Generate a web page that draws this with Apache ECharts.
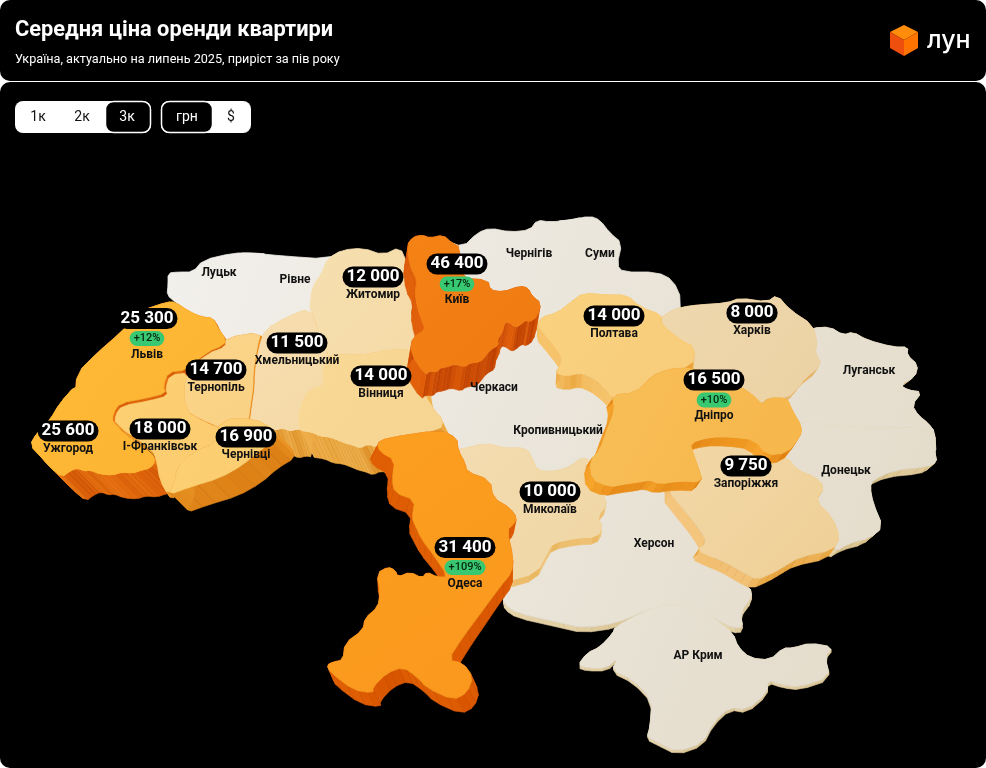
<!DOCTYPE html>
<html>
<head>
<meta charset="utf-8">
<style>html,body{margin:0;padding:0;background:#fff}#chart{width:986px;height:768px}</style>
<script src="https://cdn.jsdelivr.net/npm/echarts@6/dist/echarts.min.js"></script>
</head>
<body>
<div id="chart"></div>
<script>
// values
const regionNames = ['Луцьк','Рівне','Чернігів','Суми','Черкаси','Кропивницький','Херсон','АР Крим','Луганськ','Донецьк','Харків','Запоріжжя','Миколаїв','Житомир','Львів','Ужгород','І-Франківськ','Тернопіль','Хмельницький','Вінниця','Чернівці','Полтава','Дніпро','Одеса','Київ'];
const rentValues = [null,null,null,null,null,null,null,null,null,null,8000,9750,10000,12000,25300,25600,18000,14700,11500,14000,16900,14000,16500,31400,46400];
const growthValues = [null,null,null,null,null,null,null,null,null,null,null,null,null,null,12,null,null,null,null,null,null,null,10,109,17];

// region outlines (x, y in page pixels)
// neighbours overlap a little, the later one in paintOrder hides the shared part
const outlines = {
  'Луцьк': [[168,273],[178,272],[193,272],[203,260],[233,253],[253,253],[268,254],[265,300],[250,345],[225,350],[217,327],[213,318],[202,317],[190,312],[175,302],[167,295],[168,285]],
  'Рівне': [[238,253],[253,253],[283,256],[327,259],[345,249],[345,300],[310,335],[263,345],[235,345],[240,290]],
  'Чернігів': [[445,240],[463,247],[477,233],[490,228],[510,232],[530,230],[537,220],[550,222],[570,220],[583,217],[580,315],[540,330],[490,310],[450,290]],
  'Суми': [[556,221],[570,220],[590,216],[600,220],[610,233],[622,243],[617,265],[623,272],[657,272],[673,280],[682,300],[675,330],[640,325],[600,320],[555,320]],
  'Черкаси': [[410,370],[500,320],[540,315],[560,340],[570,362],[580,373],[600,385],[540,405],[500,415],[470,415],[440,420],[425,410]],
  'Кропивницький': [[425,405],[470,410],[500,410],[540,400],[600,380],[625,400],[620,440],[605,480],[560,490],[500,480],[460,465],[440,440]],
  'Херсон': [[503,597],[510,585],[525,560],[543,540],[560,520],[597,510],[610,480],[640,465],[663,470],[672,495],[680,505],[700,533],[702,545],[730,578],[750,587],[752,597],[740,613],[743,627],[733,628],[717,620],[700,612],[673,605],[647,610],[617,623],[583,628],[557,622],[517,613],[505,605]],
  'АР Крим': [[615,627],[643,612],[670,603],[700,610],[717,621],[733,633],[738,647],[750,658],[770,660],[783,648],[793,648],[810,643],[833,647],[825,657],[830,677],[800,687],[783,685],[768,680],[767,693],[747,710],[730,707],[713,723],[703,743],[677,752],[657,742],[647,737],[650,727],[652,700],[633,680],[612,670],[618,658],[607,668],[587,668],[578,665],[587,653],[600,647],[613,633]],
  'Луганськ': [[812,328],[830,327],[843,335],[853,332],[867,340],[893,347],[908,347],[907,355],[918,365],[915,377],[900,385],[908,390],[922,392],[912,405],[918,415],[928,423],[935,432],[936,456],[850,456],[795,436],[785,395],[795,375],[805,365],[800,352],[800,335]],
  'Донецьк': [[790,420],[850,428],[934,428],[935,453],[937,462],[927,467],[895,470],[873,480],[870,487],[873,503],[883,527],[870,538],[850,543],[835,552],[830,537],[820,517],[805,500],[812,487],[805,477],[785,470],[775,458]],
  'Харків': [[648,328],[665,315],[673,310],[683,307],[697,305],[727,303],[740,298],[767,302],[777,295],[790,310],[813,325],[817,343],[815,352],[822,365],[805,378],[798,388],[787,398],[768,398],[762,405],[720,410],[670,385],[665,350]],
  'Запоріжжя': [[690,430],[710,425],[733,425],[755,430],[767,452],[788,458],[797,470],[815,477],[825,487],[815,500],[832,517],[840,537],[833,550],[800,557],[785,566],[775,572],[757,580],[742,572],[727,563],[712,557],[697,550],[707,543],[700,530],[680,505],[668,490],[680,465]],
  'Миколаїв': [[448,452],[458,450],[487,443],[503,448],[527,448],[533,460],[537,470],[553,472],[570,467],[582,457],[593,462],[590,483],[603,493],[607,505],[597,517],[603,527],[597,537],[577,538],[553,543],[547,553],[537,573],[505,582],[495,540],[485,500],[455,470]],
  'Житомир': [[327,259],[342,250],[363,248],[383,255],[400,247],[407,263],[413,280],[417,298],[425,327],[425,360],[387,360],[337,365],[327,357],[317,330],[310,308],[310,307],[312,287],[322,273]],
  'Львів': [[167,302],[175,302],[190,312],[202,317],[213,318],[217,327],[225,338],[224,345],[207,352],[187,370],[168,372],[163,387],[166,393],[147,398],[120,403],[113,413],[112,425],[80,425],[70,405],[75,398],[77,373],[97,353],[120,333],[143,310]],
  'Ужгород': [[60,403],[76,385],[95,385],[112,425],[152,453],[155,462],[150,468],[142,470],[133,473],[122,472],[113,475],[100,474],[90,470],[85,471],[77,468],[70,471],[62,477],[50,467],[42,458],[30,445],[37,433],[50,420]],
  'І-Франківськ': [[115,424],[116,414],[122,406],[149,401],[168,396],[166,388],[170,375],[189,373],[190,400],[203,410],[215,415],[223,425],[217,443],[193,452],[177,468],[175,483],[168,495],[160,480],[157,462],[153,450]],
  'Тернопіль': [[226,338],[261,332],[257,347],[253,373],[253,387],[250,407],[248,423],[223,430],[215,425],[203,420],[185,410],[185,374],[207,354],[226,347]],
  'Хмельницький': [[310,308],[287,317],[265,330],[259,347],[255,373],[255,387],[252,407],[250,423],[262,426],[275,430],[283,428],[290,431],[297,429],[303,430],[305,407],[313,390],[332,385],[328,370],[329,357],[317,330]],
  'Вінниця': [[329,357],[337,355],[367,355],[387,350],[415,350],[420,385],[430,405],[443,420],[440,430],[390,438],[377,447],[368,444],[360,448],[353,445],[345,443],[338,440],[330,437],[320,436],[312,432],[298,430],[300,407],[308,390],[325,385],[322,370]],
  'Чернівці': [[220,420],[253,418],[275,430],[277,440],[260,450],[243,465],[220,478],[190,487],[168,495],[175,483],[177,468],[193,452],[217,443]],
  'Полтава': [[537,325],[542,317],[557,313],[570,303],[583,293],[607,295],[627,295],[640,307],[662,315],[660,323],[680,340],[695,347],[692,367],[650,377],[648,392],[627,393],[620,397],[613,398],[605,388],[595,380],[588,376],[580,373],[567,376],[555,373],[563,362],[560,353],[548,338]],
  'Дніпро': [[612,395],[635,393],[648,380],[657,373],[680,367],[710,372],[743,388],[755,397],[762,405],[768,398],[787,398],[792,410],[802,427],[800,437],[787,453],[767,455],[755,440],[733,437],[710,437],[690,443],[693,453],[698,467],[703,482],[680,481],[660,484],[650,480],[640,482],[625,484],[610,487],[592,480],[590,460],[600,450],[607,430],[615,410]],
  'Одеса': [[377,443],[387,438],[440,430],[457,438],[458,450],[465,463],[467,472],[490,480],[493,498],[510,508],[517,518],[513,525],[507,530],[513,557],[512,572],[500,587],[483,610],[463,637],[448,660],[463,663],[473,677],[467,693],[453,700],[427,688],[417,677],[403,667],[387,673],[373,687],[373,693],[353,690],[330,672],[327,665],[333,662],[343,660],[345,643],[363,630],[365,618],[378,607],[380,593],[377,573],[388,567],[395,570],[398,577],[410,572],[422,578],[427,572],[437,577],[448,577],[435,557],[422,540],[415,525],[412,518],[415,500],[395,493],[392,480],[395,460],[380,452]],
  'Київ': [[407,245],[413,237],[422,235],[430,238],[443,235],[452,243],[460,247],[460,278],[488,280],[490,290],[503,292],[520,286],[528,288],[532,296],[541,303],[537,317],[530,322],[526,320],[519,326],[515,327],[510,323],[505,322],[502,333],[497,340],[499,345],[490,350],[484,358],[480,362],[470,363],[465,367],[455,364],[447,367],[440,368],[437,372],[430,371],[425,375],[410,352],[413,337],[425,330],[423,323],[418,310],[415,293],[417,280],[410,267]]
};

// where each label block is centred
const labelAnchors = {
  'Луцьк':[219,273],'Рівне':[295,280],'Чернігів':[529,254],'Суми':[600,254],'Черкаси':[494,388],'Кропивницький':[558,431],'Херсон':[654,544],'АР Крим':[698,656],'Луганськ':[869,371],'Донецьк':[846,471],
  'Харків':[752,321],'Запоріжжя':[746,474],'Миколаїв':[550,500],'Житомир':[373,285],'Львів':[147,335.5],'Ужгород':[68,439],'І-Франківськ':[160,437],'Тернопіль':[216,378],'Хмельницький':[297,351],'Вінниця':[381,384],'Чернівці':[246,445],'Полтава':[614,324],'Дніпро':[714,397],'Одеса':[465,564.5],'Київ':[457,281]
};

// top face colours (light, dark) and wall colours (dark, light)
const neutralStops = ['#f2f0ec', '#e4dccb'];
const faceColors = {
  'Харків':['#efd8ae','#ebd2a4'],'Запоріжжя':['#f2d8a8','#efcf95'],'Миколаїв':['#f3dcb0','#f0d6a4'],'Житомир':['#f6dfb0','#f4daa6'],'Львів':['#ffba37','#fdb433'],'Ужгород':['#ffba37','#fdb433'],'І-Франківськ':['#fdd074','#fbcc6e'],'Тернопіль':['#fbd58b','#fad184'],'Хмельницький':['#f7deb0','#f5d9a7'],'Вінниця':['#f9d996','#f6d491'],'Чернівці':['#fdd074','#fbcd70'],'Полтава':['#fad27f','#f7cc7a'],'Дніпро':['#f8bf58','#f6b64a'],'Одеса':['#fc9f20','#fa981d'],'Київ':['#f58214','#ee7a12']
};
const wallColors = {
  'Херсон':['#d8c291','#e8d6ae'],'АР Крим':['#d8c291','#e8d6ae'],'Луганськ':['#d8bf88','#ecdab0'],'Донецьк':['#d8bf88','#ecdab0'],
  'Харків':['#e5b063','#efc78a'],'Запоріжжя':['#e9a640','#f4c67e'],'Миколаїв':['#e9b65e','#f3cf8e'],'Львів':['#d95c08','#f07c16'],'Ужгород':['#d95c08','#f07a14'],'І-Франківськ':['#e0800f','#ee9a2a'],'Тернопіль':['#e0800f','#ee8f1e'],'Хмельницький':['#e09228','#f2b450'],'Вінниця':['#e09228','#f2b450'],'Чернівці':['#dd8015','#ea9526'],'Полтава':['#e9a035','#f6c46c'],'Дніпро':['#e0800f','#f7a52c'],'Одеса':['#d85400','#e05f04'],'Київ':['#bf4000','#e2600a']
};
// how far each wall drops from its top face: dx, dy, and how dx leans with height on the page
const wallOffsets = {
  'Херсон':[0,5],'АР Крим':[0,3],'Луганськ':[-8,6],'Донецьк':[-8,7],
  'Харків':[-6,8],'Запоріжжя':[-6,9],'Миколаїв':[-1,7],'Львів':[4,6],'Ужгород':[24,24],'І-Франківськ':[4,6],'Тернопіль':[3,2],'Хмельницький':[9,27],'Вінниця':[13,27],'Чернівці':[18,18],'Полтава':[-1,14],'Дніпро':[-6,9],'Одеса':[-1,14,0.06],'Київ':[-4,24]
};
// back to front, a trailing * repaints the top face only
const paintOrder = ['Херсон','АР Крим','Луцьк','Рівне','Чернігів','Суми','Черкаси','Кропивницький','Луганськ','Донецьк','Житомир','Харків','Миколаїв','Запоріжжя','Ужгород','Львів','Ужгород*','Хмельницький','Вінниця','Тернопіль*','І-Франківськ','Тернопіль','Хмельницький*','Вінниця*','Чернівці','Полтава','Дніпро','Одеса','Київ'];

const toGeo = (p) => [p[0], -p[1]];

// one corner cutting pass, takes the hard corners off the traced outlines
function rounded(pts) {
  const out = [];
  pts.forEach((a, i) => {
    const b = pts[(i + 1) % pts.length];
    out.push([a[0] * 0.75 + b[0] * 0.25, a[1] * 0.75 + b[1] * 0.25]);
    out.push([a[0] * 0.25 + b[0] * 0.75, a[1] * 0.25 + b[1] * 0.75]);
  });
  return out;
}

function mix(a, b, t) {
  const pa = parseInt(a.slice(1), 16), pb = parseInt(b.slice(1), 16);
  const ch = (s) => Math.round(((pa >> s) & 255) * (1 - t) + ((pb >> s) & 255) * t);
  return 'rgb(' + ch(16) + ',' + ch(8) + ',' + ch(0) + ')';
}

const features = regionNames.map((name) => {
  const ring = outlines[name].map(toGeo);
  ring.push(ring[0]);
  return {
    type: 'Feature',
    properties: { name: name, cp: toGeo(labelAnchors[name]) },
    geometry: { type: 'Polygon', coordinates: [ring] }
  };
});
echarts.registerMap('ukraine', { type: 'FeatureCollection', features: features });

function faceFill(name) {
  const c = faceColors[name];
  if (!c) {
    return new echarts.graphic.LinearGradient(170, 250, 900, 560, [
      { offset: 0, color: neutralStops[0] },
      { offset: 1, color: neutralStops[1] }
    ], true);
  }
  return new echarts.graphic.LinearGradient(0, 0, 1, 1, [
    { offset: 0, color: c[0] },
    { offset: 1, color: c[1] }
  ]);
}

function renderRegion(params, api) {
  const entry = paintOrder[api.value(0)];
  const topOnly = entry.endsWith('*');
  const name = entry.replace('*', '');
  const pts = rounded(outlines[name]).map((p) => api.coord(toGeo(p)));
  const off = wallOffsets[name];
  const walls = wallColors[name];
  const children = [];
  if (off && !topOnly) {
    const drop = (p) => [p[0] + off[0] + (off[2] || 0) * (p[1] - 550), p[1] + off[1]];
    pts.forEach((a, i) => {
      const b = pts[(i + 1) % pts.length];
      const dx = b[0] - a[0], dy = b[1] - a[1];
      const len = Math.sqrt(dx * dx + dy * dy) || 1;
      // facing decides the stripe shade
      const t = Math.min(1, Math.abs(dx * 0.5 + dy * 0.85) / len);
      const c = mix(walls[0], walls[1], t);
      children.push({
        type: 'polygon',
        shape: { points: [a, b, drop(b), drop(a)] },
        style: { fill: c, stroke: c, lineWidth: 0.6 }
      });
    });
  }
  const fill = faceFill(name);
  children.push({
    type: 'polygon',
    shape: { points: pts },
    style: { fill: fill, stroke: fill, lineWidth: 0.8 }
  });
  return { type: 'group', children: children };
}

const fmtRent = (v) => String(v).replace(/\B(?=(\d{3})+$)/g, ' ');
const FONT = 'Roboto';

const chart = echarts.init(document.getElementById('chart'), null, { renderer: 'canvas' });
chart.setOption({
  animation: false,
  backgroundColor: '#ffffff',
  title: {
    left: 15, top: 20,
    padding: 0,
    text: 'Середня ціна оренди квартири',
    subtext: 'Україна, актуально на липень 2025, приріст за пів року',
    itemGap: 11,
    textStyle: { fontFamily: FONT, fontSize: 21.8, fontWeight: 700, color: '#ffffff' },
    subtextStyle: { fontFamily: FONT, fontSize: 12.65, color: '#ffffff' },
    z: 10
  },
  graphic: [
    { type: 'rect', z: -10, shape: { x: 0, y: 0, width: 986, height: 81, r: 10 }, style: { fill: '#000' } },
    { type: 'rect', z: -10, shape: { x: 0, y: 82, width: 986, height: 686, r: 10 }, style: { fill: '#000' } },
    { type: 'rect', shape: { x: 15, y: 101, width: 136, height: 32, r: 8 }, style: { fill: '#fff' } },
    { type: 'rect', shape: { x: 105.5, y: 101.5, width: 45, height: 31, r: 8 }, style: { fill: '#000', stroke: '#fff', lineWidth: 1.5 } },
    { type: 'rect', shape: { x: 161, y: 101, width: 90, height: 32, r: 8 }, style: { fill: '#fff' } },
    { type: 'rect', shape: { x: 161.5, y: 101.5, width: 51, height: 31, r: 8 }, style: { fill: '#000', stroke: '#fff', lineWidth: 1.5 } },
    { type: 'text', style: { x: 38, y: 117, text: '1к', fill: '#111', font: '14px Roboto', align: 'center', verticalAlign: 'middle' } },
    { type: 'text', style: { x: 82, y: 117, text: '2к', fill: '#111', font: '14px Roboto', align: 'center', verticalAlign: 'middle' } },
    { type: 'text', style: { x: 127, y: 117, text: '3к', fill: '#fff', font: '14px Roboto', align: 'center', verticalAlign: 'middle' } },
    { type: 'text', style: { x: 187, y: 117, text: 'грн', fill: '#fff', font: '14px Roboto', align: 'center', verticalAlign: 'middle' } },
    { type: 'text', style: { x: 231, y: 117, text: '$', fill: '#111', font: '14px Roboto', align: 'center', verticalAlign: 'middle' } },
    // logo
    { type: 'polygon', shape: { points: [[904,25],[918,32],[904,40],[890,32]] }, style: { fill: '#ff8c0a' } },
    { type: 'polygon', shape: { points: [[890,32],[904,40],[904,56],[890,48]] }, style: { fill: '#ef4f0c' } },
    { type: 'polygon', shape: { points: [[918,32],[904,40],[904,56],[918,48]] }, style: { fill: '#ff7300' } },
    { type: 'text', style: { x: 927, y: 40, text: 'лун', fill: '#fff', font: '500 25px Inter', align: 'left', verticalAlign: 'middle' } }
  ],
  geo: {
    map: 'ukraine',
    left: 0, top: 0, width: 986, height: 768,
    aspectScale: 1,
    boundingCoords: [[0, 0], [986, -768]],
    silent: true,
    roam: false,
    label: { show: false },
    itemStyle: { areaColor: 'transparent', borderWidth: 0 },
    emphasis: { disabled: true }
  },
  series: [
    {
      type: 'custom',
      coordinateSystem: 'geo',
      geoIndex: 0,
      silent: true,
      z: 2,
      data: paintOrder.map((n, i) => [i]),
      renderItem: renderRegion
    },
    {
      type: 'map',
      map: 'ukraine',
      left: 0, top: 0, width: 986, height: 768,
      aspectScale: 1,
      boundingCoords: [[0, 0], [986, -768]],
      silent: true,
      z: 5,
      itemStyle: { areaColor: 'transparent', borderWidth: 0 },
      emphasis: { disabled: true },
      select: { disabled: true },
      data: regionNames.map((n, i) => ({ name: n, value: rentValues[i] == null ? NaN : rentValues[i], growth: growthValues[i] })),
      label: {
        show: true,
        fontFamily: FONT,
        formatter: (p) => {
          const lines = [];
          if (!isNaN(p.value)) lines.push('{v|' + fmtRent(p.value) + '}');
          if (p.data && p.data.growth != null) lines.push('{s| }', '{g|+' + p.data.growth + '%}');
          lines.push('{n|' + p.name + '}');
          return lines.join('\n');
        },
        rich: {
          v: { fontFamily: FONT, fontSize: 17, fontWeight: 700, color: '#fff', backgroundColor: '#000', borderRadius: 11, padding: [2, 4, 2, 4], lineHeight: 20, align: 'center' },
          s: { fontSize: 1, lineHeight: 2 },
          g: { fontFamily: FONT, fontSize: 11, fontWeight: 500, color: '#06260f', backgroundColor: '#38c872', borderRadius: 8, padding: [2, 4, 2, 4], lineHeight: 16, align: 'center' },
          n: { fontFamily: FONT, fontSize: 12, fontWeight: 700, color: '#111', lineHeight: 16, align: 'center' }
        }
      }
    }
  ]
});
</script>
</body>
</html>
